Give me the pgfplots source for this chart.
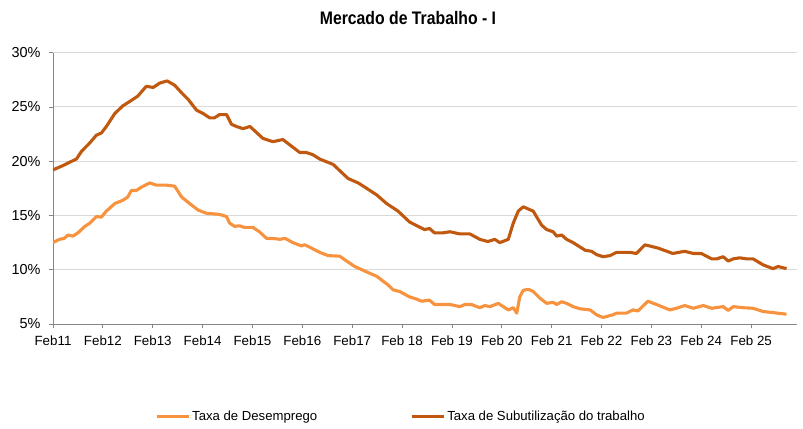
\documentclass[border=0pt]{standalone}
\usepackage{fontspec}
\setmainfont{Liberation Sans}
\newfontfamily\titlefont[FakeStretch=0.87]{Liberation Sans}
\usepackage{pgfplots}
\pgfplotsset{compat=1.18}
\definecolor{lightor}{HTML}{F7923E}
\definecolor{darkor}{HTML}{C0590F}
\definecolor{gridc}{HTML}{D9D9D9}
\definecolor{axc}{HTML}{868686}
\begin{document}
\begin{tikzpicture}
\path[use as bounding box] (-53bp,-105bp) rectangle (750bp,324bp);
\begin{axis}[
  scale only axis,
  width=744bp, height=271.3bp,
  at={(0,0)}, anchor=south west,
  xmin=0, xmax=14.92, ymin=5, ymax=30,
  axis x line*=bottom, axis y line*=left,
  axis line style={axc, line width=0.8pt},
  xtick={0,...,14},
  xticklabels={Feb11,Feb12,Feb13,Feb14,Feb15,Feb16,Feb17,Feb 18,Feb 19,Feb 20,Feb 21,Feb 22,Feb 23,Feb 24,Feb 25},
  ytick={5,10,15,20,25,30},
  yticklabels={5\%,10\%,15\%,20\%,25\%,30\%},
  tick align=outside,
  major tick length=4bp,
  tick style={axc, line width=0.8pt},
  ymajorgrids, grid style={gridc, line width=1pt},
  xticklabel style={font=\fontsize{13.4}{15}\selectfont, yshift=-4bp},
  yticklabel style={font=\fontsize{14.5}{16}\selectfont, xshift=-5bp},
  legend columns=2,
  legend style={draw=none, at={(axis description cs:0.137,-0.342)}, anchor=west,
    font=\fontsize{13.2}{15}\selectfont, inner sep=0pt,
    /tikz/every even column/.append style={column sep=91bp}},
  legend image code/.code={\draw[#1] (0bp,0bp) -- (32bp,0bp);},
]
\addplot[lightor, line width=3.1bp, line join=round] coordinates {
(0.00,12.5)(0.13,12.8)(0.23,12.9)(0.30,13.2)(0.40,13.1)(0.50,13.4)(0.64,14.0)(0.74,14.3)
(0.87,14.9)(0.97,14.85)(1.07,15.4)(1.24,16.1)(1.40,16.4)(1.50,16.7)(1.57,17.3)(1.67,17.3)
(1.77,17.6)(1.94,18.0)(2.07,17.8)(2.27,17.8)(2.44,17.7)(2.58,16.7)(2.74,16.1)(2.91,15.5)
(3.08,15.2)(3.34,15.1)(3.48,14.9)(3.54,14.3)(3.64,14.0)(3.74,14.05)(3.84,13.9)(4.01,13.9)
(4.14,13.5)(4.28,12.9)(4.48,12.85)(4.55,12.8)(4.65,12.9)(4.81,12.5)(4.98,12.2)(5.05,12.3)
(5.18,12.0)(5.35,11.6)(5.52,11.3)(5.75,11.25)(5.92,10.7)(6.05,10.3)(6.29,9.8)(6.49,9.4)
(6.72,8.6)(6.82,8.15)(6.95,8.0)(7.15,7.5)(7.29,7.3)(7.39,7.1)(7.55,7.2)(7.65,6.8)
(7.96,6.8)(8.16,6.6)(8.26,6.8)(8.39,6.8)(8.56,6.5)(8.66,6.7)(8.76,6.6)(8.93,6.9)
(9.13,6.3)(9.23,6.5)(9.30,6.0)(9.36,7.5)(9.43,8.1)(9.53,8.2)(9.63,8.0)(9.76,7.4)
(9.90,6.9)(10.03,7.0)(10.10,6.8)(10.20,7.05)(10.30,6.9)(10.43,6.6)(10.57,6.4)(10.77,6.3)
(10.90,5.85)(11.03,5.6)(11.23,5.85)(11.30,6.0)(11.50,6.0)(11.63,6.3)(11.73,6.2)(11.93,7.1)
(12.10,6.8)(12.37,6.3)(12.50,6.45)(12.67,6.7)(12.84,6.45)(13.04,6.7)(13.21,6.45)(13.44,6.6)
(13.54,6.25)(13.64,6.6)(13.84,6.5)(14.04,6.45)(14.24,6.15)(14.44,6.05)(14.71,5.9)
};
\addlegendentry{Taxa de Desemprego}
\addplot[darkor, line width=3.1bp, line join=round] coordinates {
(0.00,19.2)(0.20,19.6)(0.33,19.9)(0.47,20.2)(0.57,20.9)(0.74,21.7)(0.87,22.4)(0.97,22.6)
(1.07,23.2)(1.24,24.4)(1.40,25.1)(1.57,25.6)(1.70,26.0)(1.87,26.9)(2.01,26.8)(2.14,27.2)
(2.29,27.4)(2.44,27.0)(2.58,26.3)(2.71,25.7)(2.88,24.7)(3.01,24.4)(3.14,24.0)(3.24,24.0)
(3.34,24.3)(3.48,24.3)(3.58,23.4)(3.68,23.2)(3.81,23.0)(3.95,23.2)(4.21,22.1)(4.41,21.8)
(4.61,22.0)(4.75,21.5)(4.95,20.8)(5.08,20.8)(5.21,20.6)(5.35,20.2)(5.62,19.7)(5.78,19.0)
(5.92,18.4)(6.12,18.0)(6.29,17.5)(6.49,16.9)(6.69,16.1)(6.92,15.4)(7.15,14.4)(7.45,13.7)
(7.55,13.8)(7.65,13.4)(7.82,13.4)(7.96,13.5)(8.16,13.3)(8.36,13.3)(8.56,12.8)(8.72,12.6)
(8.86,12.8)(8.96,12.5)(9.13,12.8)(9.23,14.3)(9.33,15.4)(9.43,15.8)(9.53,15.6)(9.63,15.4)
(9.80,14.1)(9.90,13.7)(10.03,13.5)(10.10,13.1)(10.20,13.2)(10.30,12.8)(10.43,12.5)(10.67,11.8)
(10.80,11.7)(10.90,11.4)(11.03,11.2)(11.17,11.3)(11.30,11.6)(11.57,11.6)(11.70,11.5)(11.87,12.3)
(12.13,12.0)(12.43,11.5)(12.67,11.7)(12.84,11.5)(13.00,11.5)(13.21,11.0)(13.31,11.0)(13.44,11.2)
(13.54,10.8)(13.64,11.0)(13.77,11.1)(13.91,11.0)(14.04,11.0)(14.24,10.45)(14.44,10.1)(14.54,10.3)
(14.71,10.1)
};
\addlegendentry{Taxa de Subutilização do trabalho}
\end{axis}
\node[font=\titlefont\bfseries\fontsize{18.2}{20}\selectfont] at (355bp,306bp) {Mercado de Trabalho - I};
\end{tikzpicture}
\end{document}
